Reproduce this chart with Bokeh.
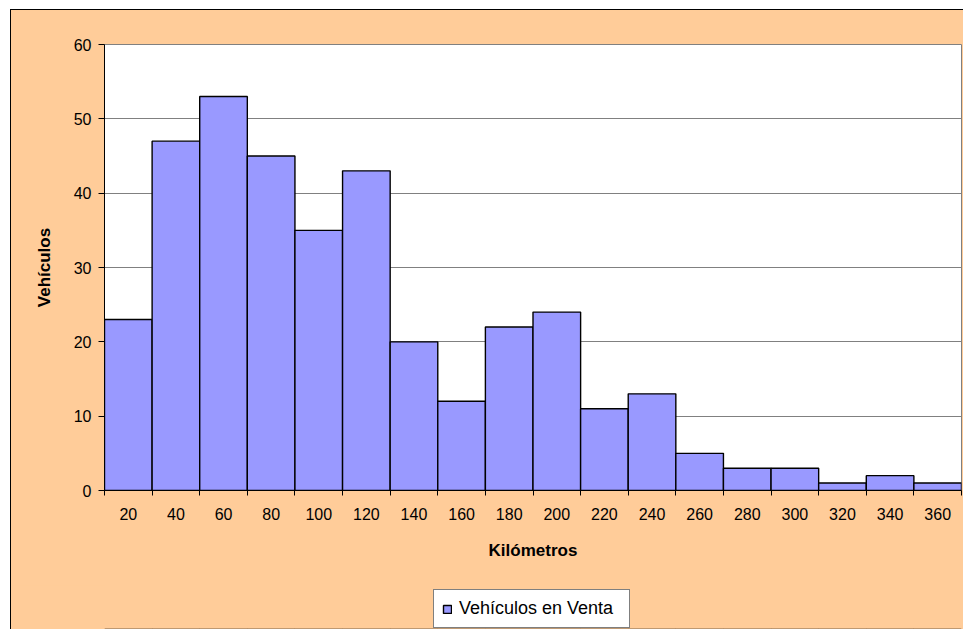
from bokeh.plotting import figure
from bokeh.layouts import column
from bokeh.models import ColumnDataSource, FixedTicker, Range1d, Legend, LegendItem
from bokeh.embed import file_html
from bokeh.resources import INLINE

# Kilometre classes (bin centres, in thousands of km) and vehicle counts
kilometros = [20, 40, 60, 80, 100, 120, 140, 160, 180, 200, 220, 240, 260, 280, 300, 320, 340, 360]
vehiculos = [23, 47, 53, 45, 35, 43, 20, 12, 22, 24, 11, 13, 5, 3, 3, 1, 2, 1]
y_ticks = [0, 10, 20, 30, 40, 50, 60]
serie = "Vehículos en Venta"

PEACH = "#FFCC99"
BAR = "#9999FF"

bin_w = kilometros[1] - kilometros[0]
edges = [k - bin_w / 2 for k in kilometros] + [kilometros[-1] + bin_w / 2]

src = ColumnDataSource(dict(x=kilometros, top=vehiculos))

# --- main histogram -------------------------------------------------------
p = figure(
    width=952, height=575,
    x_range=Range1d(edges[0], edges[-1]),
    y_range=Range1d(0, 60),
    output_backend="svg", toolbar_location=None,
    min_border_left=93, min_border_top=34, min_border_right=2, min_border_bottom=95,
    background_fill_color="white", border_fill_color=PEACH,
)

p.outline_line_color = "#808080"
p.outline_line_width = 1

bar_style = dict(fill_color=BAR, line_color="black", line_width=1.4)
p.vbar(x="x", top="top", width=bin_w, source=src, **bar_style)

# x axis: labels at bin centres, tick marks at bin edges
p.xaxis.ticker = FixedTicker(ticks=kilometros, minor_ticks=edges)
p.xaxis.major_tick_line_color = None
p.xaxis.minor_tick_out = 5
p.xaxis.minor_tick_in = 0
p.xaxis.minor_tick_line_color = "black"
p.xaxis.axis_line_color = "black"
p.xaxis.major_label_standoff = 11
p.xaxis.axis_label = "Kilómetros"
p.xaxis.axis_label_standoff = 18

p.yaxis.ticker = FixedTicker(ticks=y_ticks)
p.yaxis.major_tick_out = 6
p.yaxis.major_tick_in = 0
p.yaxis.minor_tick_line_color = None
p.yaxis.axis_line_color = "black"
p.yaxis.major_label_standoff = 7
p.yaxis.axis_label = "Vehículos"
p.yaxis.axis_label_standoff = 17

for ax in (p.xaxis, p.yaxis):
    ax.major_label_text_font = "Liberation Sans"
    ax.major_label_text_font_size = "16px"
    ax.major_label_text_color = "black"
    ax.axis_label_text_font = "Liberation Sans"
    ax.axis_label_text_font_size = "17px"
    ax.axis_label_text_font_style = "bold"
    ax.axis_label_text_color = "black"

p.xgrid.grid_line_color = None
p.ygrid.grid_line_color = "#808080"
p.ygrid.grid_line_width = 1

# --- legend strip under the chart ----------------------------------------
# Its frame is aligned with the chart frame by the column layout; the bars
# drawn here lie far below its y range, so only the legend swatch shows.
leg = figure(
    width=952, height=44,
    x_range=Range1d(edges[0], edges[-1]), y_range=Range1d(1000, 1001),
    output_backend="svg", toolbar_location=None,
    x_axis_location=None, y_axis_location=None,
    min_border=0,
    background_fill_color=PEACH, border_fill_color=PEACH,
)
leg.outline_line_color = None
leg.grid.visible = False
swatch = leg.vbar(x="x", top="top", width=bin_w, source=src, **bar_style)

legend = Legend(
    items=[LegendItem(label=serie, renderers=[swatch])],
    location=(329, 1),
    orientation="horizontal",
    border_line_color="black", border_line_width=1,
    background_fill_color="white", background_fill_alpha=1,
    label_text_font="Liberation Sans", label_text_font_size="18px",
    label_text_color="black",
    label_height=20, label_width=162,
    glyph_width=10, glyph_height=10,
    padding=8, margin=0, spacing=0, label_standoff=7,
)
leg.add_layout(legend, "center")

page = column(p, leg, spacing=0, margin=(9, 0, 0, 10))
page.styles = {"border-left": "1px solid #000000", "border-top": "1px solid #000000",
               "background-color": PEACH}

html = file_html(page, INLINE)
html = html.replace("</head>", "<style>html, body { overflow: hidden; }</style>\n</head>", 1)
open("out.html", "w").write(html)
